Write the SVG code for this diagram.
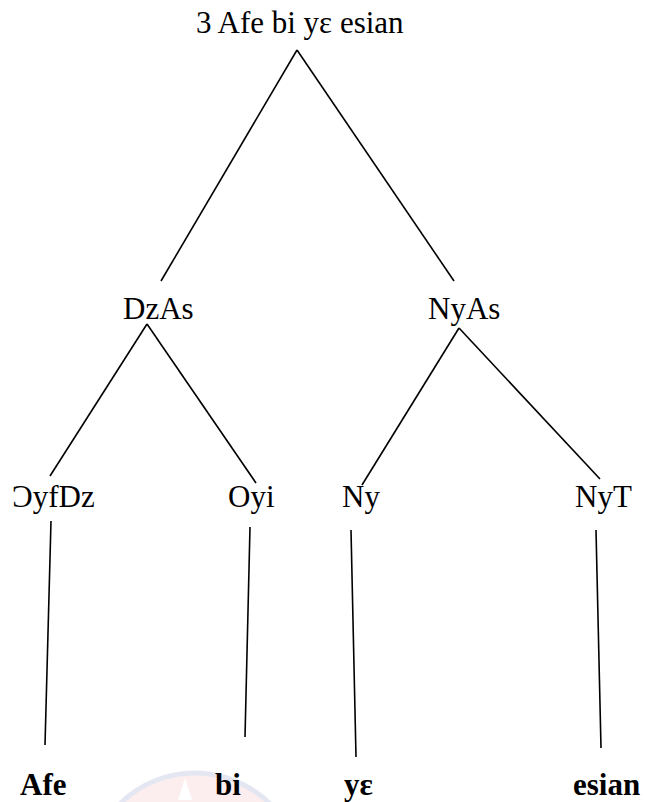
<svg xmlns="http://www.w3.org/2000/svg" width="645" height="802" viewBox="0 0 645 802">
<style>
  .lbl { font-family: "Liberation Serif", "Times New Roman", serif; font-size: 31px; fill: #000; }
  .leaf { font-family: "Liberation Serif", "Times New Roman", serif; font-size: 31px; font-weight: bold; fill: #000; }
  .edge { stroke: #000; stroke-width: 1.6; fill: none; stroke-linecap: butt; }
</style>
<rect width="645" height="802" fill="#ffffff"/>
<g id="watermark" opacity="0.3">
  <circle cx="195" cy="880" r="107" fill="#f6c9c9" stroke="#a9b3d6" stroke-width="5"/>
  <polygon points="185,778 192,800 178,800" fill="#ffffff"/>
</g>
<g id="connectors">
  <line class="edge" x1="297" y1="50" x2="161" y2="281"/>
  <line class="edge" x1="297" y1="50" x2="454" y2="281"/>
  <line class="edge" x1="147" y1="324" x2="50" y2="476"/>
  <line class="edge" x1="147" y1="324" x2="256" y2="483"/>
  <line class="edge" x1="459" y1="328" x2="362" y2="485"/>
  <line class="edge" x1="459" y1="328" x2="600" y2="479"/>
  <line class="edge" x1="51" y1="521" x2="45" y2="745"/>
  <line class="edge" x1="250" y1="527" x2="245" y2="737"/>
  <line class="edge" x1="351" y1="530" x2="356" y2="757"/>
  <line class="edge" x1="596" y1="530" x2="601" y2="748"/>
</g>
<g id="root"><text class="lbl" x="196" y="33">3 Afe bi yɛ esian</text></g>
<g id="dzas"><text class="lbl" x="123" y="319">DzAs</text></g>
<g id="nyas"><text class="lbl" x="428" y="319">NyAs</text></g>
<g id="oyfdz"><text class="lbl" x="12" y="507">ƆyfDz</text></g>
<g id="oyi"><text class="lbl" x="228" y="507">Oyi</text></g>
<g id="ny"><text class="lbl" x="342" y="507">Ny</text></g>
<g id="nyt"><text class="lbl" x="575" y="507">NyT</text></g>
<g id="afe"><text class="leaf" x="20" y="795">Afe</text></g>
<g id="bi"><text class="leaf" x="215" y="795">bi</text></g>
<g id="ye"><text class="leaf" x="344" y="795">yɛ</text></g>
<g id="esian"><text class="leaf" x="573" y="795">esian</text></g>
</svg>
